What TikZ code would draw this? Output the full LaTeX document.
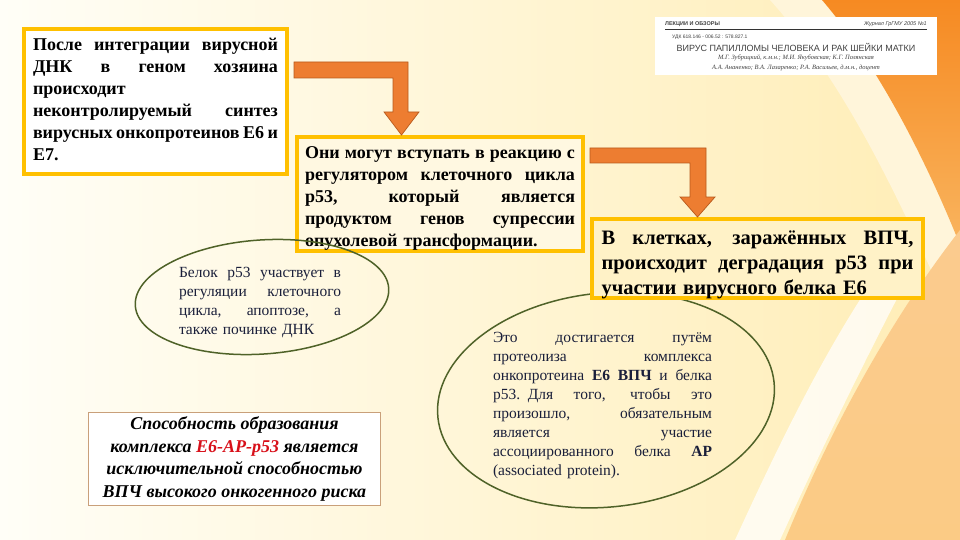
\documentclass[tikz,border=0pt]{standalone}
\usepackage{fontspec}
\setmainfont{Liberation Serif}
\newfontfamily\thumbsans{Liberation Sans}
\usetikzlibrary{shapes.geometric,calc}
\definecolor{gold}{HTML}{FFC000}
\definecolor{arrowor}{HTML}{ED7D31}
\definecolor{arrowedge}{HTML}{B85A1C}
\definecolor{olivedk}{HTML}{4F6228}
\definecolor{navytx}{HTML}{1A1F3A}
\definecolor{tanedge}{HTML}{C9A07A}
\definecolor{redtxt}{HTML}{D8101A}
\definecolor{bgL}{HTML}{FFFEF7}
\definecolor{bgR}{HTML}{FFEDB5}
\definecolor{orangebg}{HTML}{F68A22}
\definecolor{orangelt}{HTML}{F9B45E}
\definecolor{peach}{HTML}{FBCB85}
\definecolor{paleband}{HTML}{FFF5DA}
\newcommand{\jline}[1]{\par\hbox to \hsize{\spaceskip=0.25em plus 10em minus 0.1em #1}}
\newcommand{\jlast}[1]{\par\hbox{#1}}
\tikzset{
  ybox/.style={draw=gold, line width=4pt, anchor=north west, inner sep=0pt,
    font=\bfseries\fontsize{18}{22}\selectfont, text=black},
  ovaltext/.style={inner sep=0pt, font=\fontsize{15.5}{19}\selectfont, text=navytx},
  oval/.style={ellipse, draw=olivedk, line width=1.5pt, inner sep=0pt},
  notebox/.style={draw=tanedge, line width=0.9pt, fill=white, anchor=north west,
    inner sep=0pt, align=center, font=\bfseries\itshape\fontsize{18}{22.5}\selectfont},
  blockarrow/.style={fill=arrowor, draw=arrowedge, line width=0.7pt, line join=miter},
  thumbtxt/.style={inner sep=0pt, text=black!75, font=\thumbsans\fontsize{5}{6}\selectfont}
}
\begin{document}
\begin{tikzpicture}[x=1pt,y=-1pt]
\useasboundingbox (0,0) rectangle (960,540);
% background
\shade[left color=bgL, right color=bgR] (0,0) rectangle (960,540);
\fill[paleband] (770,0) .. controls (860,100) and (910,230) .. (960,330) -- (960,0) -- cycle;
\shade[top color=orangebg, bottom color=orangelt] (822,0) .. controls (882,70) and (930,170) .. (960,245) -- (960,0) -- cycle;
\shade[top color=orangelt!70!white, bottom color=peach] (960,230) .. controls (890,320) and (830,430) .. (785,540) -- (960,540) -- cycle;
\fill[white, opacity=0.75] (905,235) .. controls (840,320) and (790,420) .. (735,540) -- (780,540) .. controls (830,430) and (880,330) .. (925,245) -- cycle;
% thumbnail
\node[fill=white, anchor=north west, minimum width=282, minimum height=58, inner sep=0pt] (thumb) at (655,17) {};
\node[thumbtxt, anchor=west, font=\thumbsans\bfseries\fontsize{5.5}{6}\selectfont] (th1) at (665,24.5) {ЛЕКЦИИ И ОБЗОРЫ};
\node[thumbtxt, anchor=east, font=\thumbsans\itshape\fontsize{5.5}{6}\selectfont] (th2) at (927,24.5) {Журнал ГрГМУ 2005 №1};
\draw[line width=1.1pt, black!80] (th1.south west) ++(0,2.5) coordinate (thl) -- (thl -| th2.east);
\node[thumbtxt, anchor=west] (th3) at (672,37.5) {УДК 618.146 - 006.52 : 578.827.1};
\node[thumbtxt, font=\thumbsans\fontsize{9}{10}\selectfont] (th4) at (796,47) {ВИРУС ПАПИЛЛОМЫ ЧЕЛОВЕКА И РАК ШЕЙКИ МАТКИ};
\node[thumbtxt, font=\itshape\fontsize{6.5}{7}\selectfont] (th5) at (796,57.5) {М.Г. Зубрицкий, к.м.н.; М.И. Якубовская; К.Г. Полянская};
\node[thumbtxt, font=\itshape\fontsize{6.5}{7}\selectfont] (th6) at (796,67.5) {А.А. Ананенко; В.А. Лазаренко; Р.А. Васильев, д.м.н., доцент};
% box 1
\node[ybox, fill=white, minimum width=263, minimum height=136, text width=245, text depth=145] (b1) at (22,27)
 {\jline{После интеграции вирусной}\jline{ДНК в геном хозяина}\jlast{происходит}\jline{неконтролируемый синтез}\jline{вирусных онкопротеинов E6 и}\jlast{E7.}};
% ellipse 2 (below box 3)
\node[ovaltext, text width=219] (e2) at (602.5,401)
 {\jline{Это достигается путём}\jline{протеолиза комплекса}\jline{онкопротеина \textbf{E6 ВПЧ} и белка}\jline{p53. Для того, чтобы это}\jline{произошло, обязательным}\jline{является участие}\jline{ассоциированного белка \textbf{АР}}\jlast{(associated protein).}};
\node[oval, rotate=6, minimum width=338, minimum height=214] (e2o) at (606,400) {};
% boxes 2 and 3
\node[ybox, fill=white!60!bgR, minimum width=286, minimum height=113, text width=270] (b2) at (295,135)
 {\jline{Они могут вступать в реакцию с}\jline{регулятором клеточного цикла}\jline{p53, который является}\jline{продуктом генов супрессии}\jlast{опухолевой трансформации.}};
\node[ybox, fill=bgR!75!white, minimum width=331, minimum height=79, text width=312,
  font=\bfseries\fontsize{20.5}{25}\selectfont] (b3) at (590,217)
 {\jline{В клетках, заражённых ВПЧ,}\jline{происходит деградация p53 при}\jlast{участии вирусного белка E6}};
% ellipse 1 (over box 2)
\node[ovaltext, text width=162] (e1) at (260,298)
 {\jline{Белок p53 участвует в}\jline{регуляции клеточного}\jline{цикла, апоптозе, а}\jlast{также починке ДНК}};
\node[oval, rotate=4, minimum width=254, minimum height=114] (e1o) at (262,297) {};
% note box
\node[notebox, minimum width=292, minimum height=93] (b4) at (88,412)
 {Способность образования\\комплекса \textcolor{redtxt}{E6-AP-p53} является\\исключительной способностью\\ВПЧ высокого онкогенного риска};
% block arrows
\coordinate (a1tip) at (b2.north -| 401.5,0);
\draw[blockarrow] (294,62) -- (408,62) -- (408,112) -- (419,112) -- (a1tip) -- (384,112) -- (393,112) -- (393,78) -- (294,78) -- cycle;
\coordinate (a2tip) at (b3.north -| 697.5,0);
\draw[blockarrow] (590,148) -- (706,148) -- (706,197) -- (715,197) -- (a2tip) -- (680,197) -- (690,197) -- (690,163) -- (590,163) -- cycle;
\end{tikzpicture}
\end{document}
